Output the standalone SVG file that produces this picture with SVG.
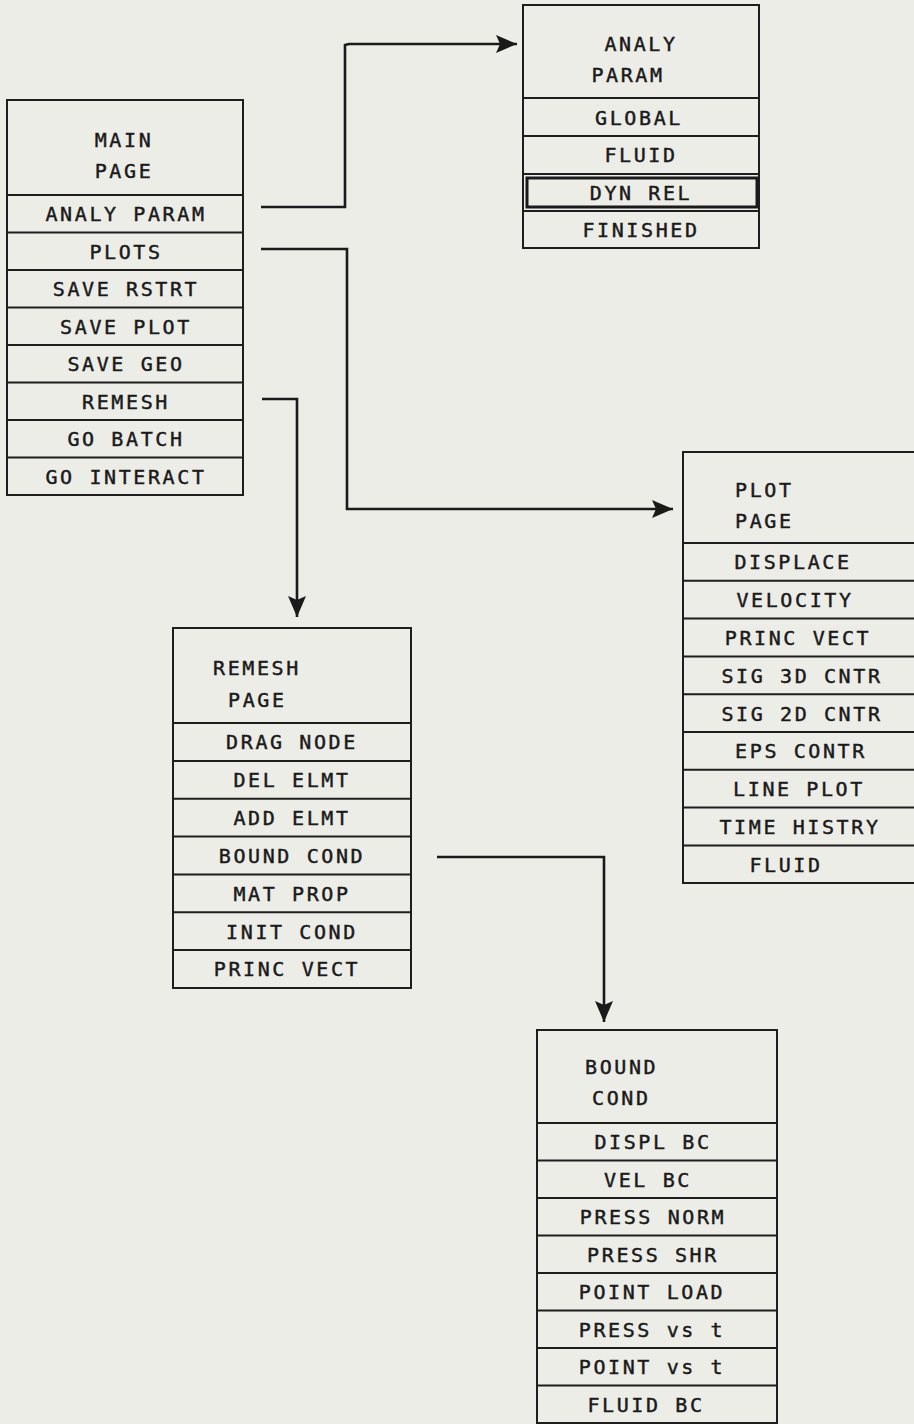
<svg xmlns="http://www.w3.org/2000/svg" width="914" height="1424" viewBox="0 0 914 1424">
<style>
.box{fill:none;stroke:#1e1e1e;stroke-width:2}
.sep{stroke:#1e1e1e;stroke-width:2}
.t{font-family:"DejaVu Sans Mono","Liberation Mono",monospace;font-size:20px;letter-spacing:2.6px;fill:#1a1a1a;stroke:#1a1a1a;stroke-width:0.45}
.c{text-anchor:middle}
.conn{fill:none;stroke:#1a1a1a;stroke-width:2.6}
</style>
<defs>
<marker id="ah" markerUnits="userSpaceOnUse" markerWidth="24" markerHeight="20" refX="21" refY="9" orient="auto">
<path d="M0,0 L21,9 L0,18 L4,9 z" fill="#1a1a1a"/>
</marker>
</defs>
<rect width="914" height="1424" fill="#edede8"/>

<g id="main-page">
<rect class="box" x="7" y="100" width="236" height="395"/>
<line class="sep" x1="7" y1="195" x2="243" y2="195"/>
<line class="sep" x1="7" y1="232.5" x2="243" y2="232.5"/>
<line class="sep" x1="7" y1="270" x2="243" y2="270"/>
<line class="sep" x1="7" y1="307.5" x2="243" y2="307.5"/>
<line class="sep" x1="7" y1="345" x2="243" y2="345"/>
<line class="sep" x1="7" y1="382.5" x2="243" y2="382.5"/>
<line class="sep" x1="7" y1="420" x2="243" y2="420"/>
<line class="sep" x1="7" y1="457.5" x2="243" y2="457.5"/>
<text class="t c" x="124" y="147">MAIN</text>
<text class="t c" x="124" y="178">PAGE</text>
<text class="t c" x="126" y="221">ANALY PARAM</text>
<text class="t c" x="126" y="258.5">PLOTS</text>
<text class="t c" x="126" y="296">SAVE RSTRT</text>
<text class="t c" x="126" y="333.5">SAVE PLOT</text>
<text class="t c" x="126" y="371">SAVE GEO</text>
<text class="t c" x="126" y="408.5">REMESH</text>
<text class="t c" x="126" y="446">GO BATCH</text>
<text class="t c" x="126" y="483.5">GO INTERACT</text>
</g>

<g id="analy-param">
<rect class="box" x="523" y="5" width="236" height="243"/>
<line class="sep" x1="523" y1="98" x2="759" y2="98"/>
<line class="sep" x1="523" y1="136" x2="759" y2="136"/>
<line class="sep" x1="523" y1="174" x2="759" y2="174"/>
<line class="sep" x1="523" y1="211" x2="759" y2="211"/>
<rect x="527" y="178" width="230" height="29" fill="none" stroke="#1a1a1a" stroke-width="3"/>
<text class="t c" x="641" y="51">ANALY</text>
<text class="t c" x="628" y="82">PARAM</text>
<text class="t c" x="639" y="124.5">GLOBAL</text>
<text class="t c" x="641" y="162">FLUID</text>
<text class="t c" x="641" y="199.5">DYN REL</text>
<text class="t c" x="641" y="237">FINISHED</text>
</g>

<g id="plot-page">
<rect class="box" x="683" y="452" width="240" height="431"/>
<line class="sep" x1="683" y1="543" x2="914" y2="543"/>
<line class="sep" x1="683" y1="580.8" x2="914" y2="580.8"/>
<line class="sep" x1="683" y1="618.6" x2="914" y2="618.6"/>
<line class="sep" x1="683" y1="656.4" x2="914" y2="656.4"/>
<line class="sep" x1="683" y1="694.2" x2="914" y2="694.2"/>
<line class="sep" x1="683" y1="732" x2="914" y2="732"/>
<line class="sep" x1="683" y1="769.8" x2="914" y2="769.8"/>
<line class="sep" x1="683" y1="807.6" x2="914" y2="807.6"/>
<line class="sep" x1="683" y1="845.4" x2="914" y2="845.4"/>
<text class="t" x="735" y="497">PLOT</text>
<text class="t" x="735" y="528">PAGE</text>
<text class="t c" x="793" y="569">DISPLACE</text>
<text class="t c" x="795" y="607">VELOCITY</text>
<text class="t c" x="798" y="645">PRINC VECT</text>
<text class="t c" x="802" y="682.5">SIG 3D CNTR</text>
<text class="t c" x="802" y="720.5">SIG 2D CNTR</text>
<text class="t c" x="801" y="758">EPS CONTR</text>
<text class="t c" x="799" y="796">LINE PLOT</text>
<text class="t c" x="800" y="834">TIME HISTRY</text>
<text class="t c" x="786" y="871.5">FLUID</text>
</g>

<g id="remesh-page">
<rect class="box" x="173" y="628" width="238" height="360"/>
<line class="sep" x1="173" y1="723" x2="411" y2="723"/>
<line class="sep" x1="173" y1="760.9" x2="411" y2="760.9"/>
<line class="sep" x1="173" y1="798.7" x2="411" y2="798.7"/>
<line class="sep" x1="173" y1="836.6" x2="411" y2="836.6"/>
<line class="sep" x1="173" y1="874.4" x2="411" y2="874.4"/>
<line class="sep" x1="173" y1="912.3" x2="411" y2="912.3"/>
<line class="sep" x1="173" y1="950.1" x2="411" y2="950.1"/>
<text class="t" x="213" y="675">REMESH</text>
<text class="t" x="228" y="707">PAGE</text>
<text class="t c" x="292" y="749">DRAG NODE</text>
<text class="t c" x="292" y="787">DEL ELMT</text>
<text class="t c" x="292" y="825">ADD ELMT</text>
<text class="t c" x="292" y="863">BOUND COND</text>
<text class="t c" x="292" y="900.5">MAT PROP</text>
<text class="t c" x="292" y="938.5">INIT COND</text>
<text class="t c" x="287" y="976">PRINC VECT</text>
</g>

<g id="bound-cond">
<rect class="box" x="537" y="1030" width="240" height="393"/>
<line class="sep" x1="537" y1="1123" x2="777" y2="1123"/>
<line class="sep" x1="537" y1="1160.5" x2="777" y2="1160.5"/>
<line class="sep" x1="537" y1="1198" x2="777" y2="1198"/>
<line class="sep" x1="537" y1="1235.5" x2="777" y2="1235.5"/>
<line class="sep" x1="537" y1="1273" x2="777" y2="1273"/>
<line class="sep" x1="537" y1="1310.5" x2="777" y2="1310.5"/>
<line class="sep" x1="537" y1="1348" x2="777" y2="1348"/>
<line class="sep" x1="537" y1="1385.5" x2="777" y2="1385.5"/>
<text class="t" x="585" y="1074">BOUND</text>
<text class="t" x="592" y="1105">COND</text>
<text class="t c" x="653" y="1149">DISPL BC</text>
<text class="t c" x="648" y="1186.5">VEL BC</text>
<text class="t c" x="653" y="1224">PRESS NORM</text>
<text class="t c" x="653" y="1261.5">PRESS SHR</text>
<text class="t c" x="652" y="1299">POINT LOAD</text>
<text class="t c" x="652" y="1336.5">PRESS vs t</text>
<text class="t c" x="652" y="1374">POINT vs t</text>
<text class="t c" x="646" y="1411.5">FLUID BC</text>
</g>

<g id="connectors">
<path class="conn" d="M261,207 H345 V45 L349,44 H517" marker-end="url(#ah)"/>
<path class="conn" d="M261,249 H347 V509 H673" marker-end="url(#ah)"/>
<path class="conn" d="M262,399 H297 V617" marker-end="url(#ah)"/>
<path class="conn" d="M437,857 H604 V1022" marker-end="url(#ah)"/>
</g>
</svg>
